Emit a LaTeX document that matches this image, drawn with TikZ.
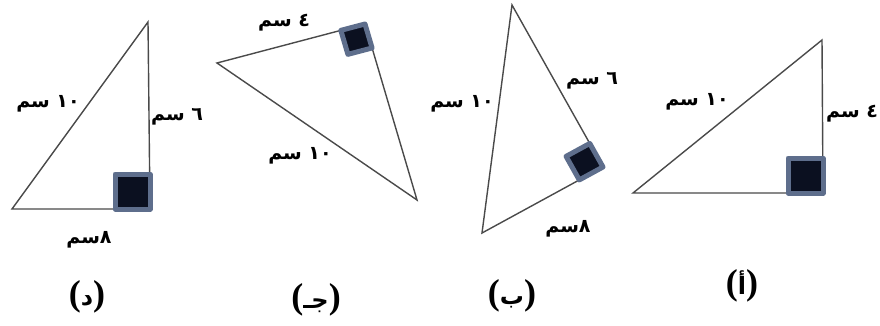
\documentclass[tikz,border=0pt]{standalone}
\usepackage{fontspec}
\TeXXeTstate=1
\newfontfamily\arabicfont[Script=Arabic]{DejaVu Sans}
\newfontfamily\parenfont{Liberation Serif}
\usetikzlibrary{calc}
\definecolor{edgegray}{HTML}{4A4A4A}
\definecolor{markfill}{HTML}{0B1020}
\definecolor{markedge}{HTML}{5E6E8C}
\newcommand{\capt}[1]{{\parenfont\bfseries\fontsize{36}{40}\selectfont(}{\arabicfont\bfseries\fontsize{24}{28}\selectfont\beginR #1\endR}{\parenfont\bfseries\fontsize{36}{40}\selectfont)}}
\tikzset{
 tri/.style={draw=edgegray, line width=1.4pt, line join=miter},
 lbl/.style={font=\arabicfont\bfseries\fontsize{19}{22}\selectfont, inner sep=0pt},
 captstyle/.style={inner sep=0pt},
 rmark/.style={fill=markfill, draw=markedge, line width=5pt, line join=round},
}
\begin{document}
\begin{tikzpicture}[x=1pt,y=-1pt]
\useasboundingbox (0,0) rectangle (880,326);
% ---------- (d)
\coordinate (dA) at (148,22);
\coordinate (dB) at (12,209);
\coordinate (dC) at (150,209);
\draw[tri] (dA) -- (dB) -- (dC) -- cycle;
\draw[rmark] ($(dC)+(-35,-35)$) rectangle (dC);
\node[lbl] (d10) at (48,104) {\beginR ١٠ سم\endR};
\node[lbl] (d6) at (177,117) {\beginR ٦ سم\endR};
\node[lbl] (d8) at (89,240) {\beginR ٨سم\endR};
\node[captstyle] (dcap) at (87,297) {\capt{د}};
% ---------- (j)
\coordinate (jL) at (217,63);
\coordinate (jR) at (365,24);
\coordinate (jB) at (417,200);
\draw[tri] (jL) -- (jR) -- (jB) -- cycle;
\coordinate (jP1) at ($(jR)!25pt!(jL)$);
\coordinate (jP3) at ($(jR)!25pt!(jB)$);
\draw[rmark] (jR) -- (jP1) -- ($(jP1)+(jP3)-(jR)$) -- (jP3) -- cycle;
\node[lbl] (j4) at (284,23) {\beginR ٤ سم\endR};
\node[lbl] (j10) at (300,156) {\beginR ١٠ سم\endR};
\node[captstyle] (jcap) at (316,300) {\capt{جـ}};
% ---------- (b)
\coordinate (bT) at (512,5);
\coordinate (bL) at (482,233);
\coordinate (bR) at (603,167);
\draw[tri] (bT) -- (bL) -- (bR) -- cycle;
\coordinate (bP1) at ($(bR)!27pt!(bT)$);
\coordinate (bP3) at ($(bR)!27pt!(bL)$);
\draw[rmark] (bR) -- (bP1) -- ($(bP1)+(bP3)-(bR)$) -- (bP3) -- cycle;
\node[lbl] (b6) at (592,81) {\beginR ٦ سم\endR};
\node[lbl] (b10) at (462,104) {\beginR ١٠ سم\endR};
\node[lbl] (b8) at (568,229) {\beginR ٨سم\endR};
\node[captstyle] (bcap) at (512,296) {\capt{ب}};
% ---------- (a)
\coordinate (aT) at (822,40);
\coordinate (aL) at (633,193);
\coordinate (aR) at (823,193);
\draw[tri] (aT) -- (aL) -- (aR) -- cycle;
\draw[rmark] ($(aR)+(-35,-35)$) rectangle (aR);
\node[lbl] (a10) at (697,102) {\beginR ١٠ سم\endR};
\node[lbl] (a4) at (852,114) {\beginR ٤ سم\endR};
\node[captstyle] (acap) at (742,286) {\capt{أ}};
\end{tikzpicture}
\end{document}
